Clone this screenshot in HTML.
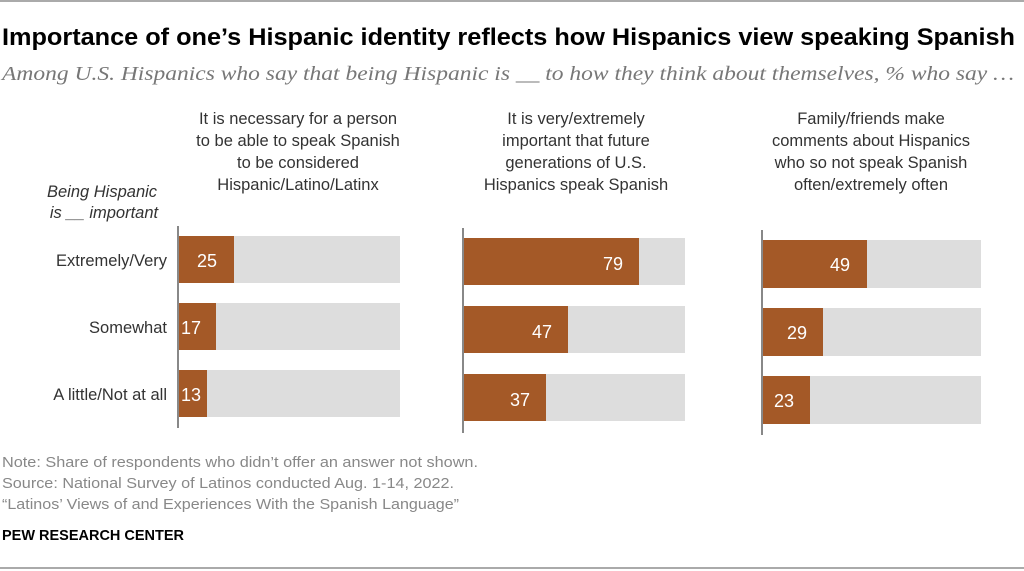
<!DOCTYPE html>
<html><head><meta charset="utf-8"><style>
html,body{margin:0;padding:0;background:#fff;}
svg{display:block;font-family:"Liberation Sans",sans-serif;}
</style></head><body>
<svg width="1024" height="571" viewBox="0 0 1024 571" xmlns="http://www.w3.org/2000/svg">
<rect x="0" y="0" width="1024" height="2" fill="#aaa"/>
<rect x="0" y="567" width="1024" height="2" fill="#aaa"/>
<text x="2" y="45" font-size="24" font-weight="bold" fill="#000" textLength="1013" lengthAdjust="spacingAndGlyphs">Importance of one’s Hispanic identity reflects how Hispanics view speaking Spanish</text>
<text x="2" y="80" font-size="20" font-style="italic" fill="#777" font-family="Liberation Serif,serif" textLength="1012" lengthAdjust="spacingAndGlyphs">Among U.S. Hispanics who say that being Hispanic is __ to how they think about themselves, % who say …</text>
<g font-size="16.5" fill="#333" text-anchor="middle">
<text x="298" y="124">It is necessary for a person</text>
<text x="298" y="146">to be able to speak Spanish</text>
<text x="298" y="168">to be considered</text>
<text x="298" y="190">Hispanic/Latino/Latinx</text>
<text x="576" y="124">It is very/extremely</text>
<text x="576" y="146">important that future</text>
<text x="576" y="168">generations of U.S.</text>
<text x="576" y="190">Hispanics speak Spanish</text>
<text x="871" y="124">Family/friends make</text>
<text x="871" y="146">comments about Hispanics</text>
<text x="871" y="168">who so not speak Spanish</text>
<text x="871" y="190">often/extremely often</text>
<text x="102" y="197" font-style="italic">Being Hispanic</text>
<text x="104" y="218" font-style="italic">is __ important</text>
</g>
<g font-size="16.5" fill="#333" text-anchor="end">
<text x="167" y="266">Extremely/Very</text>
<text x="167" y="333">Somewhat</text>
<text x="167" y="400">A little/Not at all</text>
</g>
<g fill="#ddd">
<rect x="179" y="236" width="221" height="47"/><rect x="179" y="303" width="221" height="47"/><rect x="179" y="370" width="221" height="47"/>
<rect x="464" y="238" width="221" height="47"/><rect x="464" y="306" width="221" height="47"/><rect x="464" y="374" width="221" height="47"/>
<rect x="763" y="240" width="218" height="48"/><rect x="763" y="308" width="218" height="48"/><rect x="763" y="376" width="218" height="48"/>
</g>
<g fill="#a45927">
<rect x="179" y="236" width="55" height="47"/><rect x="179" y="303" width="37" height="47"/><rect x="179" y="370" width="28" height="47"/>
<rect x="464" y="238" width="175" height="47"/><rect x="464" y="306" width="104" height="47"/><rect x="464" y="374" width="82" height="47"/>
<rect x="763" y="240" width="104" height="48"/><rect x="763" y="308" width="60" height="48"/><rect x="763" y="376" width="47" height="48"/>
</g>
<g fill="#888">
<rect x="177" y="226" width="2" height="202"/>
<rect x="462" y="228" width="2" height="205"/>
<rect x="761" y="230" width="2" height="205"/>
</g>
<g font-size="18" fill="#fff">
<text x="197" y="267">25</text><text x="181" y="334">17</text><text x="181" y="401">13</text>
<text x="603" y="270">79</text><text x="532" y="338">47</text><text x="510" y="406">37</text>
<text x="830" y="271">49</text><text x="787" y="339">29</text><text x="774" y="407">23</text>
</g>
<g font-size="15" fill="#888">
<text x="2" y="467" textLength="476" lengthAdjust="spacingAndGlyphs">Note: Share of respondents who didn’t offer an answer not shown.</text>
<text x="2" y="488" textLength="452" lengthAdjust="spacingAndGlyphs">Source: National Survey of Latinos conducted Aug. 1-14, 2022.</text>
<text x="2" y="509" textLength="457" lengthAdjust="spacingAndGlyphs">“Latinos’ Views of and Experiences With the Spanish Language”</text>
</g>
<text x="2" y="540" font-size="15" font-weight="bold" fill="#000" textLength="182" lengthAdjust="spacingAndGlyphs">PEW RESEARCH CENTER</text>
</svg>
</body></html>
